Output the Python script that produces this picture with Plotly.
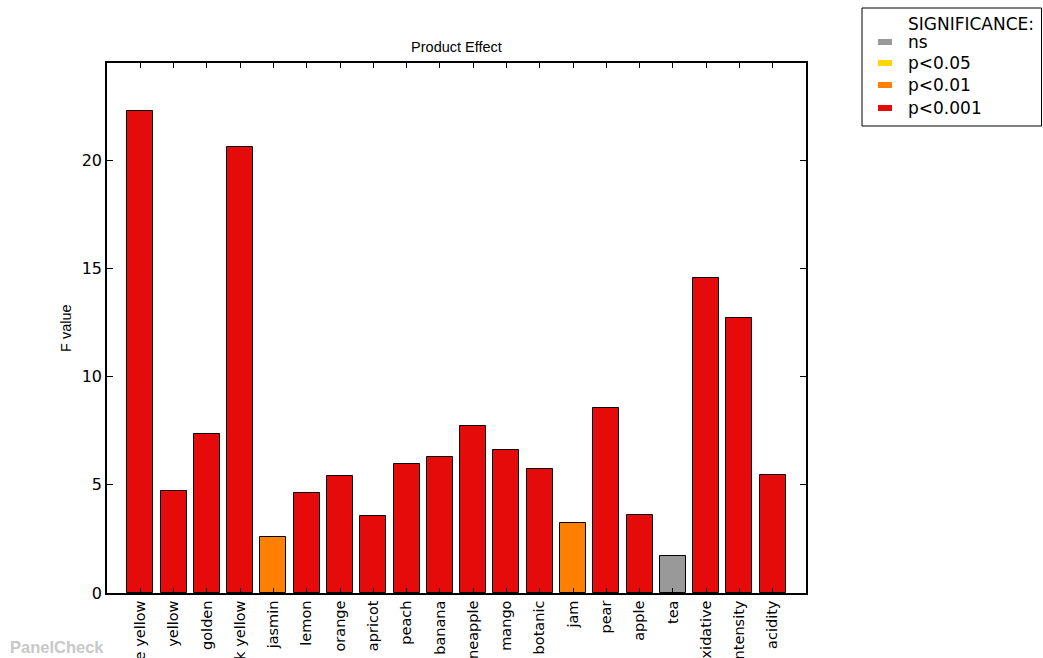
import plotly.graph_objects as go

# Sensory attributes and their F values for the product effect
attributes = ["pale yellow", "yellow", "golden", "dark yellow", "jasmin", "lemon",
              "orange", "apricot", "peach", "banana", "pineapple", "mango",
              "botanic", "jam", "pear", "apple", "tea", "oxidative",
              "intensity", "acidity"]
f_values = [22.3, 4.7, 7.35, 20.6, 2.6, 4.63, 5.4, 3.57, 5.97, 6.27,
            7.7, 6.63, 5.75, 3.25, 8.57, 3.62, 1.72, 14.55, 12.7, 5.45]
significance = ["p<0.001", "p<0.001", "p<0.001", "p<0.001", "p<0.01", "p<0.001",
                "p<0.001", "p<0.001", "p<0.001", "p<0.001", "p<0.001", "p<0.001",
                "p<0.001", "p<0.01", "p<0.001", "p<0.001", "ns", "p<0.001",
                "p<0.001", "p<0.001"]

sig_levels = ["ns", "p<0.05", "p<0.01", "p<0.001"]
sig_colors = {"ns": "#999999", "p<0.05": "#ffd700", "p<0.01": "#ff8000", "p<0.001": "#e60b0b"}

W, H = 1043, 658
L, R, T, B = 107, 806, 63, 593


def px_x(px):
    return (px - L) / (R - L)


def px_y(py):
    return (B - py) / (B - T)


fig = go.Figure()
fig.add_trace(go.Bar(
    x=attributes,
    y=f_values,
    width=0.78,
    marker=dict(color=[sig_colors[s] for s in significance],
                line=dict(color="black", width=1)),
    showlegend=False,
    hoverinfo="x+y",
))

fig.update_layout(
    width=W, height=H,
    margin=dict(l=L, r=W - R, t=T, b=H - B, autoexpand=False),
    paper_bgcolor="white",
    plot_bgcolor="white",
    bargap=0,
    title=dict(text="Product Effect", x=px_x(456.5), xref="paper", xanchor="center",
               y=1 - 47 / H, yanchor="middle",
               font=dict(family="Liberation Sans", size=14.5, color="black")),
    xaxis=dict(type="category", range=[-1, len(attributes)],
               showline=True, linecolor="black", linewidth=1.5, mirror="ticks",
               ticks="inside", ticklen=5, tickcolor="black", tickwidth=1,
               tickangle=-90, tickfont=dict(family="DejaVu Sans", size=14.5, color="black"),
               showgrid=False, automargin=False),
    yaxis=dict(range=[0, 24.5], tickvals=[0, 5, 10, 15, 20],
               showline=True, linecolor="black", linewidth=1.5, mirror="ticks",
               ticks="inside", ticklen=6, tickcolor="black", tickwidth=1,
               tickfont=dict(family="DejaVu Sans", size=16, color="black"),
               showgrid=False, zeroline=False, automargin=False),
)

# y-axis label
fig.add_annotation(text="F value", textangle=-90, xref="paper", yref="paper",
                   x=px_x(66), y=0.5, xanchor="center", yanchor="middle",
                   showarrow=False,
                   font=dict(family="Liberation Sans", size=14.5, color="black"))

# significance legend box
fig.add_shape(type="rect", xref="paper", yref="paper",
              x0=px_x(862), x1=px_x(1041.5), y0=px_y(126), y1=px_y(8),
              line=dict(color="black", width=1), fillcolor="white", layer="above")
legend_font = dict(family="DejaVu Sans", size=17, color="black")
fig.add_annotation(text="SIGNIFICANCE:", xref="paper", yref="paper",
                   x=px_x(906), y=px_y(24), xanchor="left", yanchor="middle",
                   showarrow=False, font=legend_font)
row_y = [42, 63, 85, 108]
for level, ry in zip(sig_levels, row_y):
    fig.add_shape(type="rect", xref="paper", yref="paper",
                  x0=px_x(878), x1=px_x(892), y0=px_y(ry + 3), y1=px_y(ry - 3),
                  line=dict(width=0), fillcolor=sig_colors[level], layer="above")
    fig.add_annotation(text=level, xref="paper", yref="paper",
                       x=px_x(906), y=px_y(ry), xanchor="left", yanchor="middle",
                       showarrow=False, font=legend_font)

# watermark
fig.add_annotation(text="<b>PanelCheck</b>", xref="paper", yref="paper",
                   x=px_x(8), y=px_y(647), xanchor="left", yanchor="middle",
                   showarrow=False,
                   font=dict(family="Liberation Sans", size=16.5, color="#c8c8c8"))

fig.write_html("out.html")
